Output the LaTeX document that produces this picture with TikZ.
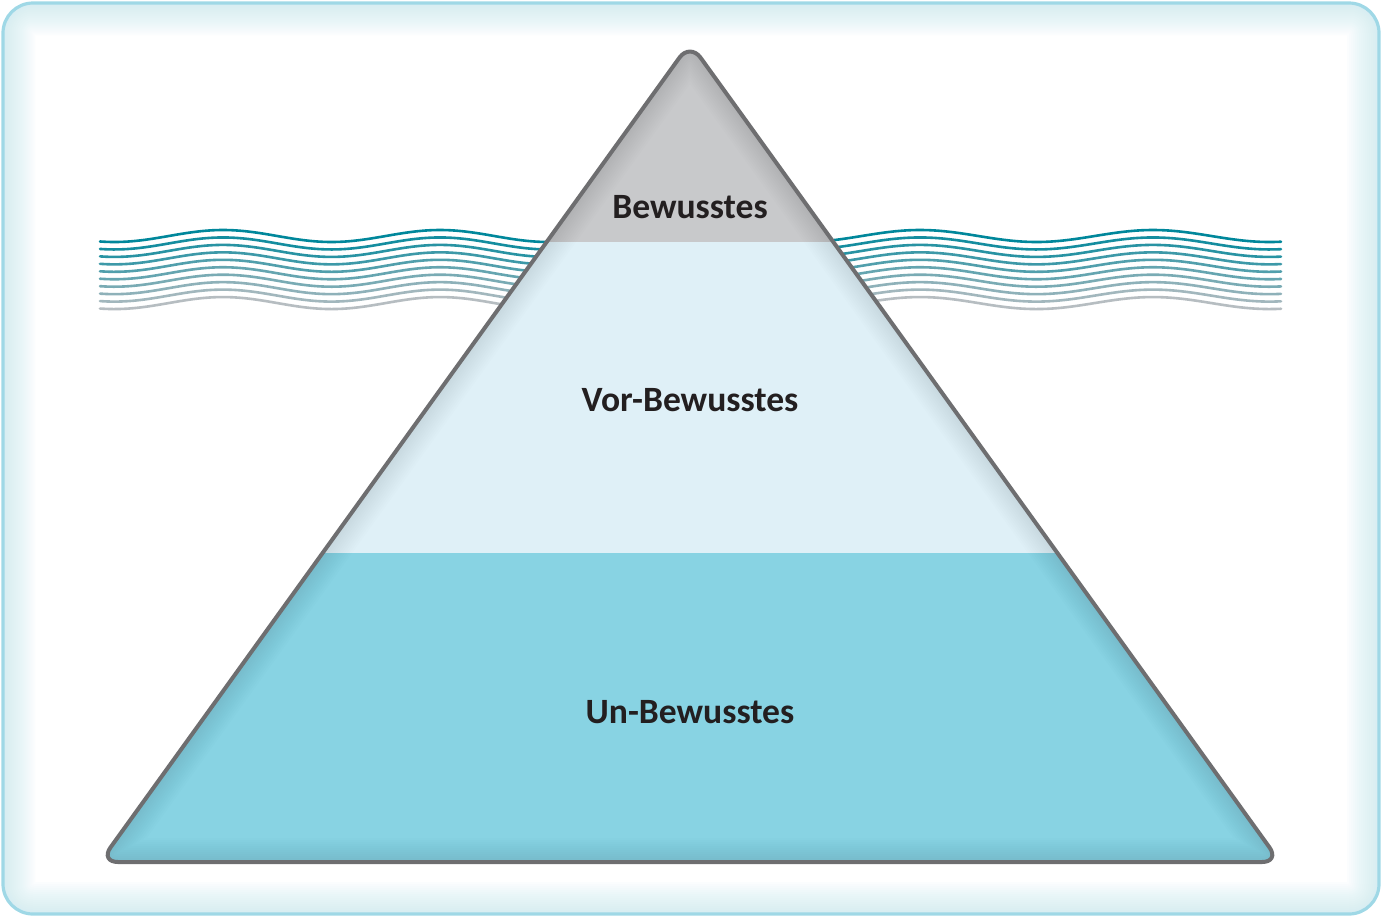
\documentclass[tikz,border=0pt]{standalone}
\usepackage{fontspec}
\setmainfont{Carlito}
\definecolor{framec}{HTML}{9FD8E6}
\definecolor{glowc}{HTML}{C9EAF2}
\definecolor{wavetop}{HTML}{00879B}
\definecolor{wavebot}{HTML}{B6BDC1}
\definecolor{topband}{HTML}{C8C9CB}
\definecolor{midband}{HTML}{DFF0F7}
\definecolor{lowband}{HTML}{88D3E3}
\definecolor{edgec}{HTML}{6E6E70}
\definecolor{textc}{HTML}{231F20}
\tikzset{
  label/.style={font=\fontsize{17.8}{21}\selectfont\bfseries, text=textc, inner sep=0pt},
  waveline/.style={line width=1.3pt, line cap=round},
}
\begin{document}
\begin{tikzpicture}[x=0.5pt,y=-0.5pt]
\useasboundingbox (0,0) rectangle (1382,917);
% frame
\begin{scope}
  \clip[rounded corners=15pt] (3,3) rectangle (1379,914);
  \fill[white] (0,0) rectangle (1382,917);
  \foreach \w in {64,60,...,4}
    \draw[glowc, opacity=0.06, line width=\w*0.5pt, rounded corners=15pt] (3,3) rectangle (1379,914);
\end{scope}
\draw[framec, line width=1.6pt, rounded corners=15pt] (3,3) rectangle (1379,914);
% waves
\foreach \k in {0,...,9} {
  \pgfmathsetmacro\pc{100-\k*100/9}
  \draw[waveline, color=wavetop!\pc!wavebot]
    plot[domain=100:690, samples=90, smooth] (\x, {236+\k*7.45-6*cos(1.65899*(\x-223))});
  \draw[waveline, color=wavetop!\pc!wavebot]
    plot[domain=690:1281, samples=90, smooth] (\x, {236+\k*7.45-6*cos(1.54506*(\x-920))});
}
% pyramid
\begin{scope}
  \clip[rounded corners=9pt] (690,862) -- (1280,862) -- (690,43) -- (100,862) -- cycle;
  \fill[topband] (0,0) rectangle (1382,242);
  \fill[midband] (0,242) rectangle (1382,553);
  \fill[lowband] (0,553) rectangle (1382,917);
  \foreach \w in {48,44,...,4}
    \draw[black, opacity=0.007, line width=\w*0.5pt, rounded corners=9pt] (690,862) -- (1280,862) -- (690,43) -- (100,862) -- cycle;
\end{scope}
\draw[edgec, line width=2pt, rounded corners=9pt, line join=round] (690,862) -- (1280,862) -- (690,43) -- (100,862) -- cycle;
% labels
\node[label] (bew) at (690,207) {Bewusstes};
\node[label] (vor) at (690,400) {Vor-Bewusstes};
\node[label] (unb) at (690,712) {Un-Bewusstes};
\end{tikzpicture}
\end{document}
